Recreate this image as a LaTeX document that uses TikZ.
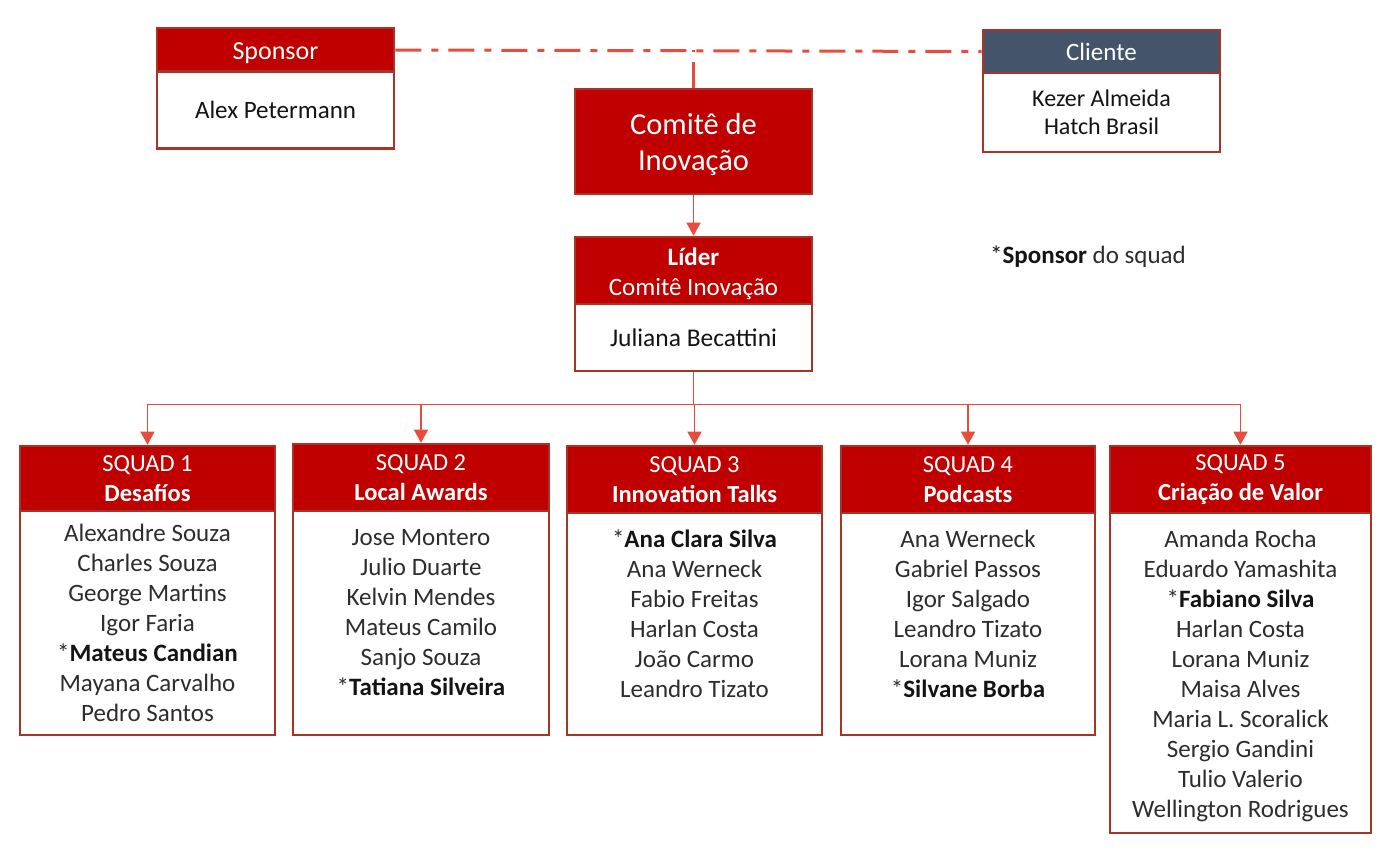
\documentclass[tikz,border=0pt]{standalone}
\usepackage{fontspec}
\usetikzlibrary{arrows.meta,calc}
\setmainfont{Carlito}
\newcommand{\flt}{\normalfont}
\newcommand{\frg}{\normalfont}
\newcommand{\fbd}{\normalfont\bfseries}
\newcommand{\lowr}[2]{\raisebox{-#1}[\height][\depth]{#2}}
\definecolor{hdrred}{RGB}{192,0,0}
\definecolor{bord}{RGB}{168,52,40}
\definecolor{conn}{RGB}{232,76,60}
\definecolor{slate}{RGB}{68,84,106}
\definecolor{ink}{RGB}{20,20,20}
\definecolor{lightink}{RGB}{45,45,45}
\tikzset{
  box/.style={draw=bord, line width=2.6pt, rectangle, inner sep=0pt, align=center},
  hdr/.style={box, fill=hdrred, text=white, font=\fontsize{24.5}{30}\selectfont},
  bodyb/.style={box, fill=white, text=ink, font=\frg\fontsize{25}{28}\selectfont},
  names/.style={inner sep=0pt, align=center, text=lightink, font=\flt\fontsize{25}{30}\selectfont},
  link/.style={draw=conn, line width=1.4pt},
  tip/.style={-{Triangle[width=14pt,length=13pt]}},
  dd/.style={draw=conn, line width=3pt, dash pattern=on 26pt off 10pt on 7pt off 10pt},
}
\newcommand{\spn}[1]{{\flt *}{\fbd\color{ink} #1}}
\begin{document}
\begin{tikzpicture}[x=1pt,y=-1pt]
\useasboundingbox (0,0) rectangle (1388,857);
% top boxes
\node[hdr, minimum width=237, minimum height=44] (sph) at (275.5,50) {\lowr{3pt}{\fontsize{26}{30}\selectfont Sponsor}};
\node[bodyb, minimum width=237, minimum height=77] (spb) at (275.5,110) {Alex Petermann};
\node[hdr, fill=slate, minimum width=237, minimum height=43] (clh) at (1101.5,51.5) {\fontsize{25}{30}\selectfont Cliente};
\node[bodyb, minimum width=237, minimum height=79, font=\frg\fontsize{24}{28}\selectfont] (clb) at (1101.5,112.5) {Kezer Almeida\\Hatch Brasil};
\node[hdr, minimum width=237, minimum height=105, font=\flt\fontsize{30.5}{36}\selectfont] (com) at (693.5,141.5) {\lowr{2.5pt}{Comitê de}\\\lowr{2.5pt}{Inovação}};
\node[hdr, minimum width=237, minimum height=67, font=\fontsize{25}{30}\selectfont] (lh) at (693.5,270.5) {\lowr{3pt}{\fbd Líder}\\\lowr{3pt}{\flt Comitê Inovação}};
\node[bodyb, minimum width=237, minimum height=67, font=\frg\fontsize{25.5}{28}\selectfont] (lb) at (693.5,337.5) {Juliana Becattini};
% dash-dot link
\coordinate (ddm) at (com.north |- sph.east);
\draw[dd] (sph.east) -- (clh.west);
\draw[dd] (com.north) -- (ddm);
\draw[link,tip] (com.south) -- (lh.north);
% note
\node[anchor=west, inner sep=0pt, text=ink, font=\fontsize{25}{28}\selectfont] (note) at (990,257) {{\flt *}{\fbd Sponsor} {\flt\color{lightink} do squad}};
% squads
\node[hdr, minimum width=255, minimum height=65] (s1h) at (147.5,478.5) {{\flt SQUAD 1}\\{\fbd Desafíos}};
\node[box, fill=white, minimum width=255, minimum height=224] (s1b) at (147.5,623) {};
\node[names, anchor=north] (s1t) at ([yshift=-14pt]s1b.north) {Alexandre Souza\\Charles Souza\\George Martins\\Igor Faria\\\spn{Mateus Candian}\\Mayana Carvalho\\Pedro Santos};

\node[hdr, minimum width=256, minimum height=67] (s2h) at (421,477.5) {{\flt SQUAD 2}\\{\fbd Local Awards}};
\node[box, fill=white, minimum width=256, minimum height=224] (s2b) at (421,623) {};
\node[names, anchor=north] (s2t) at ([yshift=-20pt]s2b.north) {Jose Montero\\Julio Duarte\\Kelvin Mendes\\Mateus Camilo\\Sanjo Souza\\\spn{Tatiana Silveira}};

\node[hdr, minimum width=255, minimum height=67] (s3h) at (694.5,479.5) {{\flt SQUAD 3}\\{\fbd Innovation Talks}};
\node[box, fill=white, minimum width=255, minimum height=222] (s3b) at (694.5,624) {};
\node[names, anchor=north] (s3t) at ([yshift=-18pt]s3b.north) {\spn{Ana Clara Silva}\\Ana Werneck\\Fabio Freitas\\Harlan Costa\\João Carmo\\Leandro Tizato};

\node[hdr, minimum width=254, minimum height=67] (s4h) at (968,479.5) {{\flt SQUAD 4}\\{\fbd Podcasts}};
\node[box, fill=white, minimum width=254, minimum height=222] (s4b) at (968,624) {};
\node[names, anchor=north] (s4t) at ([yshift=-18pt]s4b.north) {Ana Werneck\\Gabriel Passos\\Igor Salgado\\Leandro Tizato\\Lorana Muniz\\\spn{Silvane Borba}};

\node[hdr, minimum width=261, minimum height=67] (s5h) at (1240.5,479.5) {{\flt SQUAD 5}\\{\fbd Criação de Valor}};
\node[box, fill=white, minimum width=261, minimum height=320] (s5b) at (1240.5,673) {};
\node[names, anchor=north] (s5t) at ([yshift=-18pt]s5b.north) {Amanda Rocha\\Eduardo Yamashita\\\spn{Fabiano Silva}\\Harlan Costa\\Lorana Muniz\\Maisa Alves\\Maria L. Scoralick\\Sergio Gandini\\Tulio Valerio\\Wellington Rodrigues};
% tree connectors
\coordinate (hub) at ($(lb.south)+(0,32)$);
\draw[link] (lb.south) -- (hub);
\draw[link] (hub -| s1h.north) -- (hub -| s5h.north);
\foreach \s in {s1h,s2h,s3h,s4h,s5h}{
  \draw[link,tip] (hub -| \s.north) -- (\s.north);
}
\end{tikzpicture}
\end{document}
